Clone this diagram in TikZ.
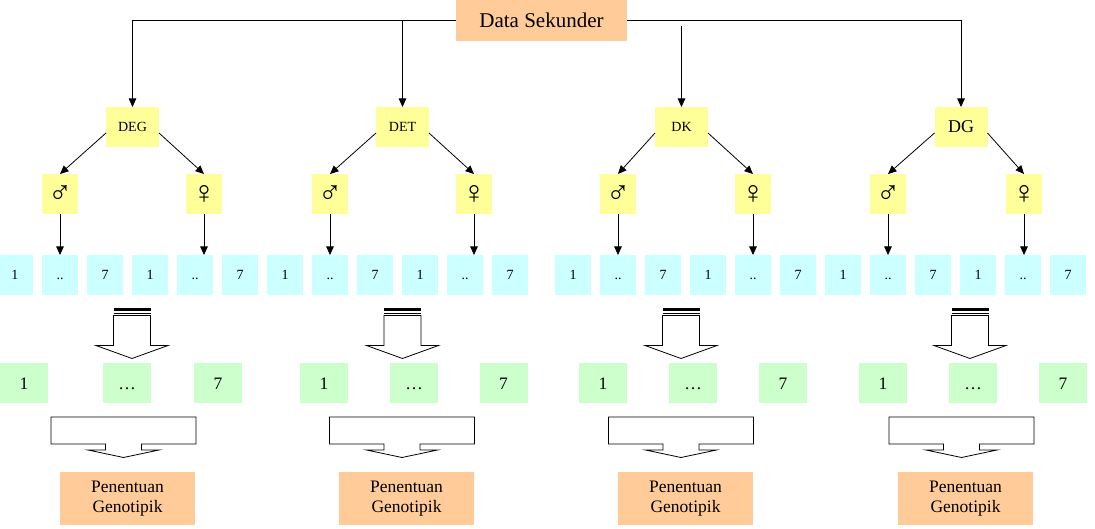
\documentclass[tikz,border=0pt]{standalone}
\usepackage{fontspec}
\setmainfont{Liberation Serif}
\usetikzlibrary{arrows.meta}
\definecolor{peach}{HTML}{FFCC99}
\definecolor{lyellow}{HTML}{FFFF99}
\definecolor{lcyan}{HTML}{CCFFFF}
\definecolor{lgreen}{HTML}{CCFFCC}
\tikzset{
  pics/stripearrow/.style={code={
    \draw[blk] (-18.5,315.5) -- (-18.5,345.5) -- (-36,345.5) -- (0,358.5) -- (36,345.5) -- (18.5,345.5) -- (18.5,315.5) -- cycle;
    \fill[black] (-18.5,308) rectangle (18.5,311.5);
    \draw[line width=0.8pt] (-18.5,313.5) -- (18.5,313.5);
  }},
  pics/calloutarrow/.style={code={
    \draw[blk] (-72.5,417) -- (72.5,417) -- (72.5,444) -- (18,444) -- (18,450) -- (35.5,450) -- (0,457.5)
      -- (-35.5,450) -- (-18,450) -- (-18,444) -- (-72.5,444) -- cycle;
  }},
}
\begin{document}
\begin{tikzpicture}[x=1pt,y=-1pt,
  conn/.style={draw=black,line width=0.8pt,-{Triangle[length=8.5pt,width=7.5pt]}},
  box/.style={inner sep=0pt,outer sep=0pt,align=center},
  srcbox/.style={box,fill=peach,minimum width=171pt,minimum height=41pt,font=\fontsize{21}{24}\selectfont},
  catbox/.style={box,fill=lyellow,minimum width=53pt,minimum height=40pt,font=\fontsize{14}{16}\selectfont},
  sexbox/.style={box,fill=lyellow,minimum width=36pt,minimum height=40pt,font=\fontsize{32}{34}\selectfont},
  cbox/.style={box,fill=lcyan,minimum width=36pt,minimum height=40pt,font=\fontsize{14}{16}\selectfont,text height=10pt,text depth=0pt},
  gbox/.style={box,fill=lgreen,minimum width=48pt,minimum height=40pt,font=\fontsize{17.5}{20}\selectfont,text height=12pt,text depth=0pt},
  resbox/.style={box,fill=peach,minimum width=135pt,minimum height=53pt,font=\fontsize{17.5}{20}\selectfont},
  blk/.style={draw=black,line width=0.8pt,fill=white,line join=miter},
]
\useasboundingbox (0,0) rectangle (1095,529);

\node[srcbox] (ds) at (541.5,20.5) {Data Sekunder};

\node[catbox] (DEG) at (132.5,127) {DEG};
\node[catbox] (DET) at (402.5,127) {DET};
\node[catbox] (DK) at (681.5,127) {DK};
\node[catbox,font=\fontsize{18}{20}\selectfont] (DG) at (961,127) {DG};

\node[sexbox] (m1) at (60,194) {♂};
\node[sexbox] (f1) at (204,194) {♀};
\node[sexbox] (m2) at (330,194) {♂};
\node[sexbox] (f2) at (474,194) {♀};
\node[sexbox] (m3) at (618,194) {♂};
\node[sexbox] (f3) at (753,194) {♀};
\node[sexbox] (m4) at (888,194) {♂};
\node[sexbox] (f4) at (1024,194) {♀};

\foreach \g/\s in {1/15,2/285,3/573,4/843}{
  \foreach \i/\t in {1/1,2/..,3/7,4/1,5/..,6/7}{
    \node[cbox] (c\g\i) at ({\s+45*(\i-1)},275) {\t};
  }
}

\foreach \g/\a/\b/\c in {1/24/127/218,2/324/414/503.5,3/603/693/783,4/883/973/1063}{
  \node[gbox] (g\g1) at (\a,383) {1};
  \node[gbox] (g\g2) at (\b,383) {\dots};
  \node[gbox] (g\g3) at (\c,383) {7};
}

\foreach \g/\x in {1/127.5,2/406.5,3/685.5,4/965.5}{
  \node[resbox] (r\g) at (\x,498.5) {Penentuan\\Genotipik};
}

\foreach \x in {132,402.5,681,970}{ \pic at (\x,0) {stripearrow}; }
\foreach \x in {123.5,402,681,961.5}{ \pic at (\x,0) {calloutarrow}; }

% top connectors
\draw[conn] (ds.west) -| (DEG.north);
\draw[conn] (DET.north |- ds.west) -- (DET.north);
\coordinate (dkstart) at (681.5,26);
\draw[conn] (dkstart) -- (DK.north);
\draw[conn] (ds.east) -| (DG.north);

% category to sex
\foreach \k/\m/\f in {DEG/m1/f1,DET/m2/f2,DK/m3/f3,DG/m4/f4}{
  \draw[conn] ([yshift=-6pt]\k.west) -- (\m.north);
  \draw[conn] ([yshift=-6pt]\k.east) -- (\f.north);
}

% sex to cyan boxes
\foreach \g in {1,2,3,4}{
  \draw[conn] (m\g.south) -- (m\g.south |- c\g2.north);
  \draw[conn] (f\g.south) -- (f\g.south |- c\g5.north);
}
\end{tikzpicture}
\end{document}
